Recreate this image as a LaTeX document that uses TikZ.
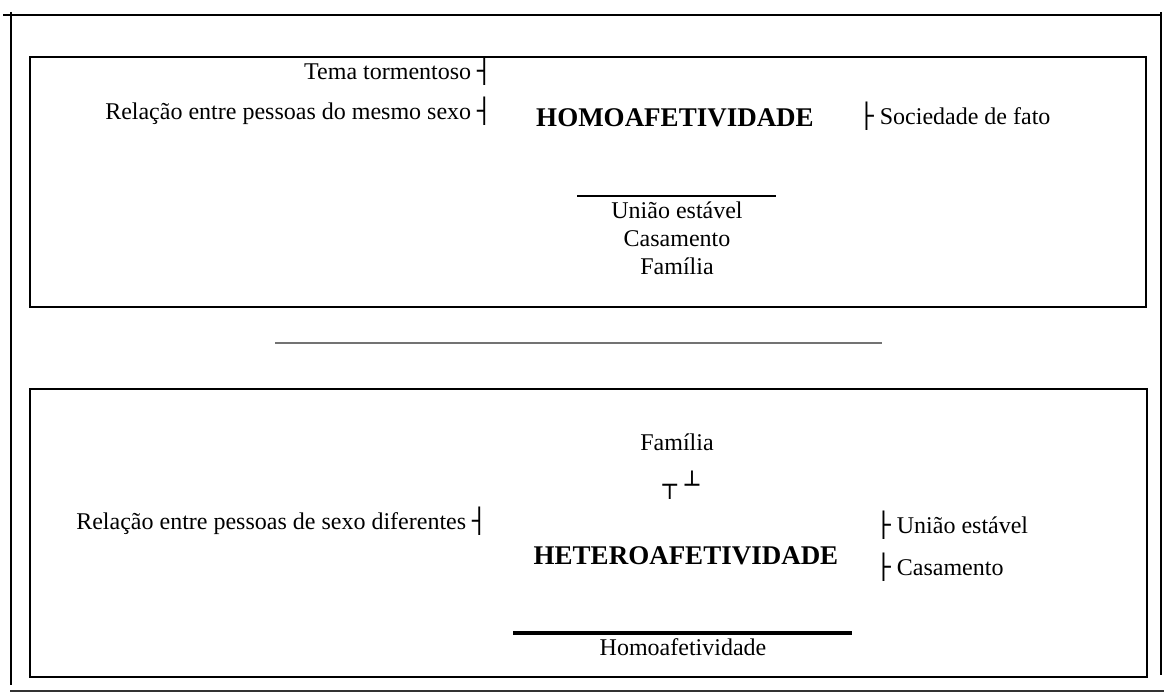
\documentclass[tikz,border=0pt]{standalone}
\usepackage{fontspec}
\setmainfont{Liberation Serif}
\newfontfamily\boxfont{DejaVu Sans}
\newcommand{\barleft}{{\boxfont ┤}}
\newcommand{\barright}{{\boxfont ├}}

\begin{document}
\begin{tikzpicture}[
        x=0.5pt,y=-0.5pt,
        mytext/.style={inner sep=0pt,font=\fontsize{12}{14}\selectfont},
        mytitle/.style={inner sep=0pt,font=\fontsize{13.5}{16}\selectfont\bfseries},
        mybox/.style={line width=1pt},
        myframe/.style={line width=0.65pt},
    ]
    \useasboundingbox (0,0) rectangle (1164,699);
    % outer frame
    \draw[myframe] (3,15) -- (1162,15);
    \draw[myframe] (11,12) -- (11,685);
    \draw[myframe] (1161,12) -- (1161,675);
    \draw[myframe,line width=0.9pt,black!80] (10,691) -- (1164,691);
    % upper box
    \draw[mybox] (30,57) rectangle (1146,307);
    \node[mytext,anchor=base east] (Tema) at (492,80) {Tema tormentoso \barleft};
    \node[mytext,anchor=base east] (Mesmo) at (492,120) {Relação entre pessoas do mesmo sexo \barleft};
    \node[mytitle,anchor=base] (Homo) at (675,127) {HOMOAFETIVIDADE};
    \node[mytext,anchor=base west] (Fato) at (859,125) {\barright\ Sociedade de fato};
    \draw[line width=0.6pt] (577,196) -- (776,196);
    \node[mytext,anchor=base] (Uniao) at (677,219) {União estável};
    \node[mytext,anchor=base] (Casa) at (677,247) {Casamento};
    \node[mytext,anchor=base] (Fam) at (677,275) {Família};
    % separator
    \draw[line width=0.6pt,black!55] (275,343) -- (882,343);
    % lower box
    \draw[mybox] (30,389) rectangle (1147,677);
    \node[mytext,anchor=base] (FamB) at (677,451) {Família};
    \node[mytext,anchor=base] (Tees) at (681,494) {{\boxfont ┬ ┴}};
    \node[mytext,anchor=base east] (Dif) at (487,530) {Relação entre pessoas de sexo diferentes \barleft};
    \node[mytitle,anchor=base] (Hetero) at (686,565) {HETEROAFETIVIDADE};
    \node[mytext,anchor=base west] (UniaoB) at (876,534) {\barright\ União estável};
    \node[mytext,anchor=base west] (CasaB) at (876,576) {\barright\ Casamento};
    \draw[line width=2pt] (513,633) -- (852,633);
    \node[mytext,anchor=base] (HomoB) at (683,656) {Homoafetividade};
\end{tikzpicture}
\end{document}
